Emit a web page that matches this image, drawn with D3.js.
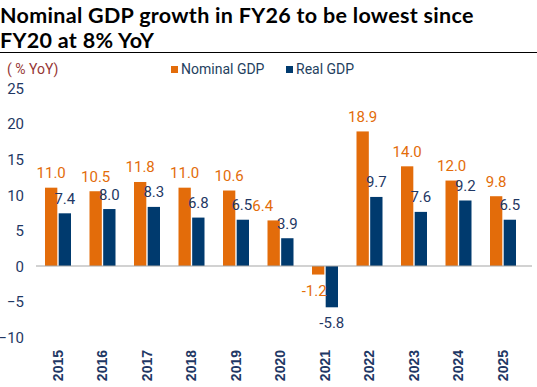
<!DOCTYPE html>
<html lang="en">
<head>
    <meta charset="UTF-8">
    <title>Nominal GDP growth</title>
    <script src="https://d3js.org/d3.v7.min.js"></script>
    <style>
        body {
            margin: 0;
            background: #fff;
        }
        svg {
            display: block;
        }
        .title {
            font-family: 'Lato', sans-serif;
            font-weight: 700;
            font-size: 21.5px;
            letter-spacing: 0.3px;
            fill: #000;
        }
        .narrow {
            font-family: 'Liberation Sans Narrow', 'Roboto', sans-serif;
        }
        .y-axis text {
            font-size: 15px;
            fill: #1f3864;
        }
        .x-axis text {
            font-family: 'Liberation Sans', sans-serif;
            font-weight: 700;
            font-size: 14px;
            fill: #1f3864;
        }
        .value {
            font-size: 15px;
        }
    </style>
</head>
<body>
    <svg width="537" height="387"></svg>

    <script>
        const years = ['2015', '2016', '2017', '2018', '2019', '2020', '2021', '2022', '2023', '2024', '2025'];
        const nominal = [11.0, 10.5, 11.8, 11.0, 10.6, 6.4, -1.2, 18.9, 14.0, 12.0, 9.8];
        const real = [7.4, 8.0, 8.3, 6.8, 6.5, 3.9, -5.8, 9.7, 7.6, 9.2, 6.5];
        const yTicks = [25, 20, 15, 10, 5, 0, -5, -10];

        const orange = '#e36c0a';
        const blue = '#003a6e';

        const svg = d3.select('svg');
        const width = 537;

        const series = [
            { key: 'Nominal GDP', values: nominal, color: orange, text: orange },
            { key: 'Real GDP', values: real, color: blue, text: '#1f3864' }
        ];

        // Title
        svg.append('text').attr('class', 'title')
            .attr('x', 0).attr('y', 23)
            .text('Nominal GDP growth in FY26 to be lowest since');
        svg.append('text').attr('class', 'title')
            .attr('x', 0).attr('y', 47.5)
            .text('FY20 at 8% YoY');

        svg.append('line')
            .attr('x1', 0).attr('x2', width)
            .attr('y1', 52.5).attr('y2', 52.5)
            .attr('stroke', '#000').attr('stroke-width', 1);

        svg.append('text')
            .attr('class', 'narrow')
            .attr('x', 7).attr('y', 74)
            .attr('font-size', 14)
            .attr('fill', '#963634')
            .text('( % YoY)');

        // Legend
        const legend = svg.append('g').attr('class', 'narrow');
        const legendX = [171, 286];
        series.forEach((s, i) => {
            legend.append('rect')
                .attr('x', legendX[i]).attr('y', 66)
                .attr('width', 7).attr('height', 7)
                .attr('fill', s.color);
            legend.append('text')
                .attr('x', legendX[i] + 10).attr('y', 74)
                .attr('font-size', 14)
                .attr('fill', '#243f60')
                .text(s.key);
        });

        // Scales
        const x = d3.scaleBand()
            .domain(years)
            .range([35.75, 525.25])
            .padding(0);

        const xSub = d3.scaleBand()
            .domain(series.map(s => s.key))
            .range([x.bandwidth() / 2 - 13, x.bandwidth() / 2 + 13])
            .paddingInner(0.1);

        const y = d3.scaleLinear()
            .domain([-10, 25])
            .range([337.2, 88]);

        // Y axis
        const yAxis = svg.append('g')
            .attr('class', 'y-axis narrow')
            .attr('transform', 'translate(24,0)')
            .call(d3.axisLeft(y).tickValues(yTicks).tickSize(0).tickPadding(0));
        yAxis.select('.domain').remove();
        yAxis.selectAll('text').attr('dy', '0.35em');

        // Bars
        const groups = svg.append('g')
            .selectAll('g')
            .data(years)
            .enter().append('g')
            .attr('transform', d => `translate(${x(d)},0)`);

        series.forEach(s => {
            groups.append('rect')
                .attr('x', xSub(s.key))
                .attr('y', (d, i) => y(Math.max(0, s.values[i])))
                .attr('width', xSub.bandwidth())
                .attr('height', (d, i) => Math.abs(y(s.values[i]) - y(0)))
                .attr('fill', s.color);
        });

        // Baseline
        svg.append('line')
            .attr('x1', 36).attr('x2', 532)
            .attr('y1', y(0)).attr('y2', y(0))
            .attr('stroke', '#a6a6a6').attr('stroke-width', 1.2);

        // Value labels (small nudges where labels would collide)
        const nudge = { 'Nominal GDP': { '2020': -11, '2021': -4 }, 'Real GDP': { '2019': -1 } };
        series.forEach(s => {
            groups.append('text')
                .attr('class', 'value narrow')
                .attr('text-anchor', 'middle')
                .attr('fill', s.text)
                .attr('x', d => xSub(s.key) + xSub.bandwidth() / 2 + ((nudge[s.key] || {})[d] || 0))
                .attr('y', (d, i) => s.values[i] >= 0 ? y(s.values[i]) - 9.5 : y(s.values[i]) + 21)
                .text((d, i) => s.values[i].toFixed(1));
        });

        // X axis labels (rotated)
        const xAxis = svg.append('g')
            .attr('class', 'x-axis')
            .attr('transform', 'translate(0,350)')
            .call(d3.axisBottom(x).tickSize(0).tickPadding(0));
        xAxis.select('.domain').remove();
        xAxis.selectAll('text')
            .attr('transform', 'rotate(-90)')
            .attr('text-anchor', 'end')
            .attr('x', 0)
            .attr('y', 0)
            .attr('dy', '0.35em');
    </script>
</body>
</html>
